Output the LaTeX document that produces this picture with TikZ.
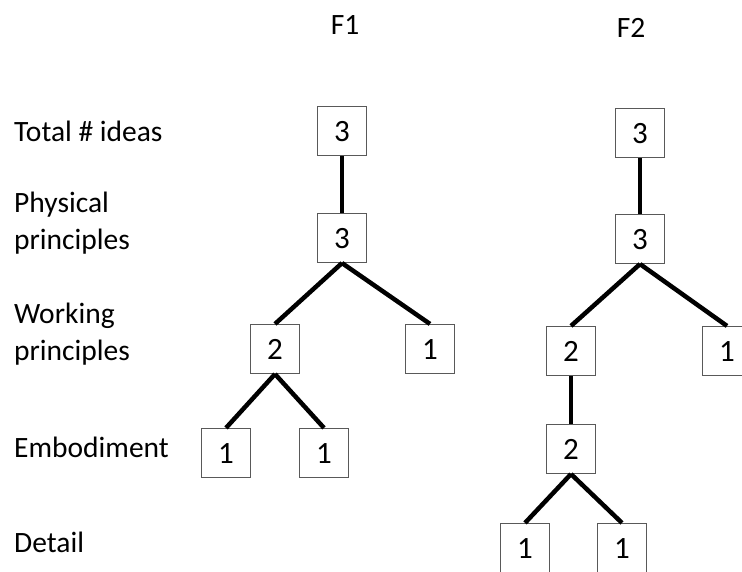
\documentclass[tikz,border=0pt]{standalone}
\usepackage{fontspec}
\setmainfont{Carlito}
\usepackage{tikz}
\usetikzlibrary{positioning}

\begin{document}
\begin{tikzpicture}[x=1pt,y=-1pt,
    every node/.style={font=\fontsize{29.5}{37}\selectfont},
    box/.style={draw=gray!70!black,line width=1.1pt,minimum size=49pt,inner sep=0pt,
      font=\fontsize{31}{37}\selectfont,text height=21pt,text depth=0pt},
    link/.style={line width=4.5pt}]
          \useasboundingbox[clip] (0,0) rectangle (742,572);
          % column headings
          \node[anchor=base] (f1) at (345,35) {F1};
          \node[anchor=base] (f2) at (631,38) {F2};
          % levels
          \node[anchor=base west,inner sep=0pt] (total) at (14,142) {Total \# ideas};
          \node[anchor=base west,inner sep=0pt,align=left] (phys) at (14,250) {Physical\\principles};
          \node[anchor=base west,inner sep=0pt,align=left] (work) at (14,360) {Working\\principles};
          \node[anchor=base west,inner sep=0pt] (embod) at (14,457) {Embodiment};
          \node[anchor=base west,inner sep=0pt] (detail) at (14,552) {Detail};
          % tree F1
          \node[box] (a1) at (342,131) {3};
          \node[box] (a2) at (342,238) {3};
          \node[box] (a3) at (275,349) {2};
          \node[box] (a4) at (430,349) {1};
          \node[box] (a5) at (226,453) {1};
          \node[box] (a6) at (324,453) {1};
          \draw[link] (a1.south) -- (a2.north);
          \draw[link] (a2.south) -- (a3.north);
          \draw[link] (a2.south) -- (a4.north);
          \draw[link] (a3.south) -- (a5.north);
          \draw[link] (a3.south) -- (a6.north);
          % tree F2
          \node[box] (b1) at (640,133) {3};
          \node[box] (b2) at (640,239) {3};
          \node[box] (b3) at (571,351) {2};
          \node[box] (b4) at (727,351) {1};
          \node[box] (b5) at (571,449) {2};
          \node[box] (b6) at (525,548) {1};
          \node[box] (b7) at (622,548) {1};
          \draw[link] (b1.south) -- (b2.north);
          \draw[link] (b2.south) -- (b3.north);
          \draw[link] (b2.south) -- (b4.north);
          \draw[link] (b3.south) -- (b5.north);
          \draw[link] (b5.south) -- (b6.north);
          \draw[link] (b5.south) -- (b7.north);
        \end{tikzpicture}
\end{document}
